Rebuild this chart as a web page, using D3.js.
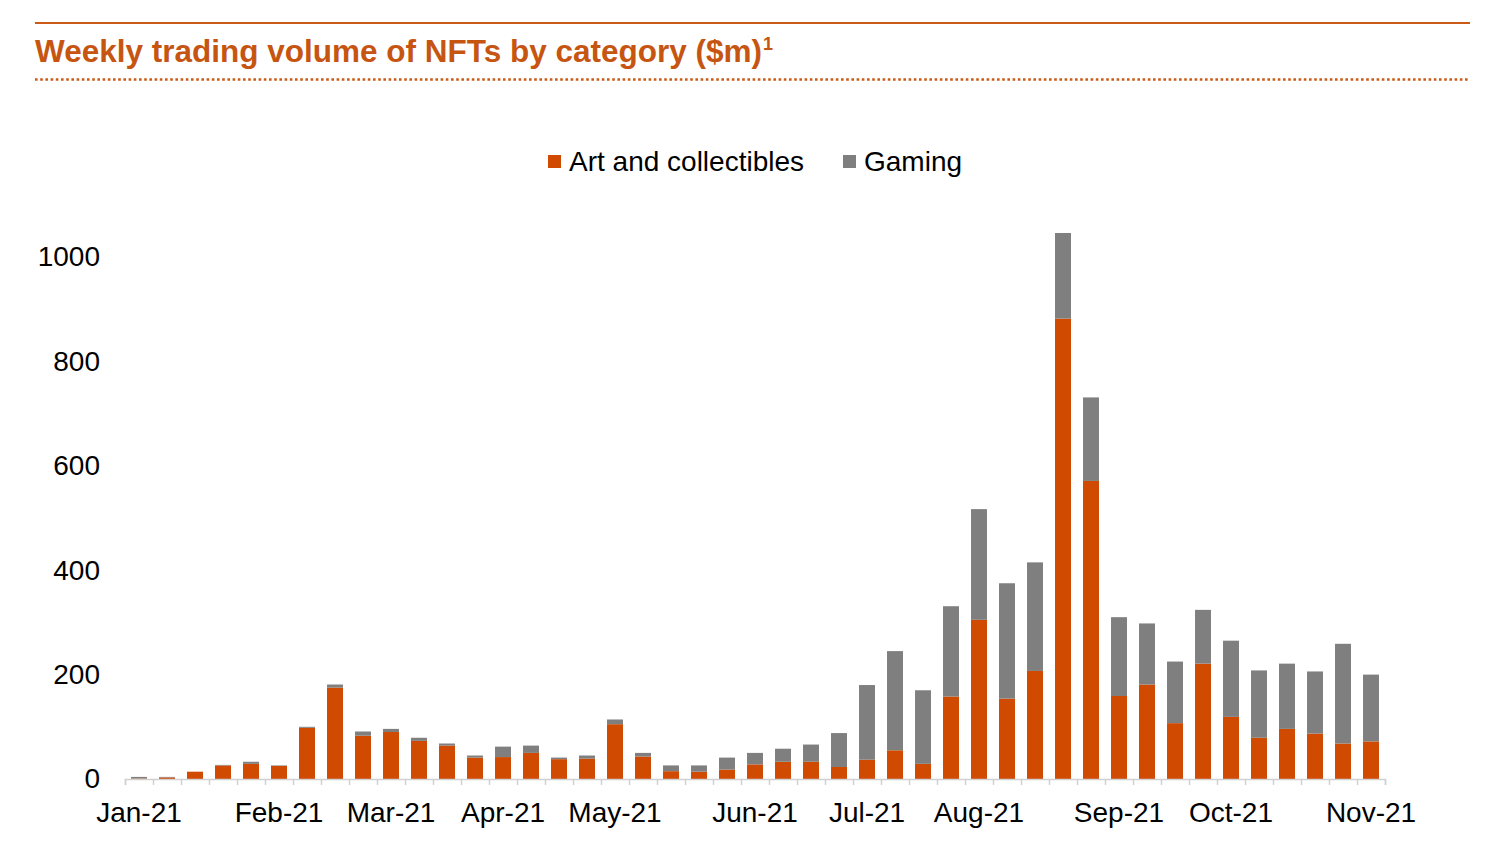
<!DOCTYPE html>
<html>
<head>
<meta charset="utf-8">
<script src="https://cdn.jsdelivr.net/npm/d3@7"></script>
<style>
  html, body { margin: 0; padding: 0; background: #ffffff; }
  svg { display: block; font-family: "Liberation Sans", Arial, sans-serif; }
</style>
</head>
<body>
<svg id="chart" width="1508" height="846"></svg>
<script>
// ---- Data ----
const weeks = [
  "2021-01-03","2021-01-10","2021-01-17","2021-01-24","2021-01-31",
  "2021-02-07","2021-02-14","2021-02-21","2021-02-28",
  "2021-03-07","2021-03-14","2021-03-21","2021-03-28",
  "2021-04-04","2021-04-11","2021-04-18","2021-04-25",
  "2021-05-02","2021-05-09","2021-05-16","2021-05-23","2021-05-30",
  "2021-06-06","2021-06-13","2021-06-20","2021-06-27",
  "2021-07-04","2021-07-11","2021-07-18","2021-07-25",
  "2021-08-01","2021-08-08","2021-08-15","2021-08-22","2021-08-29",
  "2021-09-05","2021-09-12","2021-09-19","2021-09-26",
  "2021-10-03","2021-10-10","2021-10-17","2021-10-24","2021-10-31",
  "2021-11-07"
];
const artCollectibles = [1,3,14,26,29,25,98,175,83,90,73,64,41,42,50,38,39,105,43,15,14,18,28,33,33,23,37,55,29,158,305,154,207,882,571,159,181,107,221,119,79,96,87,68,72];
const gaming = [3,1,0,1,4,1,2,6,8,6,6,4,4,20,14,3,6,9,7,11,12,23,22,25,33,65,143,190,141,173,212,221,208,164,160,151,117,118,103,146,129,125,119,191,128];
const seriesNames = ["Art and collectibles", "Gaming"];
const tickWeeks = ["2021-01-03","2021-02-07","2021-03-07","2021-04-04","2021-05-02","2021-06-06","2021-07-04","2021-08-01","2021-09-05","2021-10-03","2021-11-07"];
const tickLabels = ["Jan-21","Feb-21","Mar-21","Apr-21","May-21","Jun-21","Jul-21","Aug-21","Sep-21","Oct-21","Nov-21"];
const yTicks = [0, 200, 400, 600, 800, 1000];
const titleText = "Weekly trading volume of NFTs by category ($m)";

// ---- Layout ----
const colors = { "Art and collectibles": "#d04a02", "Gaming": "#7f7f7f" };
const accent = "#cc5a17";
const plot = { left: 125, right: 1385, top: 204.8, bottom: 779 };
const labelFont = "'Liberation Sans', Arial, sans-serif";

const svg = d3.select("#chart");

// Header lines and title
svg.append("line").attr("x1", 35).attr("x2", 1470).attr("y1", 23).attr("y2", 23)
  .attr("stroke", accent).attr("stroke-width", 2.2);
svg.append("line").attr("x1", 35).attr("x2", 1470).attr("y1", 79.5).attr("y2", 79.5)
  .attr("stroke", accent).attr("stroke-width", 2.6).attr("stroke-dasharray", "2.6,2.6");
const title = svg.append("text").attr("x", 35).attr("y", 62)
  .attr("font-size", 31.5).attr("font-weight", "bold").attr("fill", "#c65512");
title.append("tspan").text(titleText);
title.append("tspan").attr("font-size", 18).attr("dy", -12).attr("dx", 1).text("1");

// Data table
const table = weeks.map((w, i) => ({ week: w, "Art and collectibles": artCollectibles[i], "Gaming": gaming[i] }));
const stacked = d3.stack().keys(seriesNames)(table);

// Scales
const x = d3.scaleBand().domain(weeks).range([plot.left, plot.right]).paddingInner(0.43).paddingOuter(0.215);
const y = d3.scaleLinear().domain([0, 1100]).range([plot.bottom, plot.top]);
const xEdges = d3.scaleLinear().domain([0, weeks.length]).range([plot.left, plot.right]);

// Bars
svg.append("g").selectAll("g").data(stacked).join("g")
  .attr("fill", d => colors[d.key])
  .selectAll("rect").data(d => d).join("rect")
  .attr("x", d => x(d.data.week))
  .attr("width", x.bandwidth())
  .attr("y", d => y(d[1]))
  .attr("height", d => Math.max(0, y(d[0]) - y(d[1])));

// X axis: line + boundary ticks
const edgeAxis = svg.append("g").attr("transform", `translate(0,${plot.bottom})`)
  .call(d3.axisBottom(xEdges).tickValues(d3.range(weeks.length + 1)).tickFormat("").tickSize(6).tickSizeOuter(6));
edgeAxis.selectAll("path, line").attr("stroke", "#d0d0d0").attr("stroke-width", 1.5);

// X axis labels
const labelAxis = svg.append("g").attr("transform", `translate(0,${plot.bottom})`)
  .call(d3.axisBottom(x).tickValues(tickWeeks).tickFormat((d, i) => tickLabels[i]).tickSize(0).tickPadding(23));
labelAxis.select(".domain").remove();
labelAxis.selectAll("text").attr("font-size", 28).attr("fill", "#000").attr("font-family", labelFont);

// Y axis labels
const yAxis = svg.append("g").attr("transform", `translate(100,0)`)
  .call(d3.axisLeft(y).tickValues(yTicks).tickFormat(d3.format("d")).tickSize(0).tickPadding(0));
yAxis.select(".domain").remove();
yAxis.selectAll("text").attr("font-size", 28).attr("fill", "#000").attr("font-family", labelFont);

// Legend
const legendItems = [
  { name: "Art and collectibles", sx: 548, tx: 569 },
  { name: "Gaming", sx: 843, tx: 864 }
];
const legend = svg.append("g");
legend.selectAll("rect").data(legendItems).join("rect")
  .attr("x", d => d.sx).attr("y", 155).attr("width", 13).attr("height", 13)
  .attr("fill", d => colors[d.name]);
legend.selectAll("text").data(legendItems).join("text")
  .attr("x", d => d.tx).attr("y", 171)
  .attr("font-size", 28).attr("fill", "#000")
  .text(d => d.name);
</script>
</body>
</html>
